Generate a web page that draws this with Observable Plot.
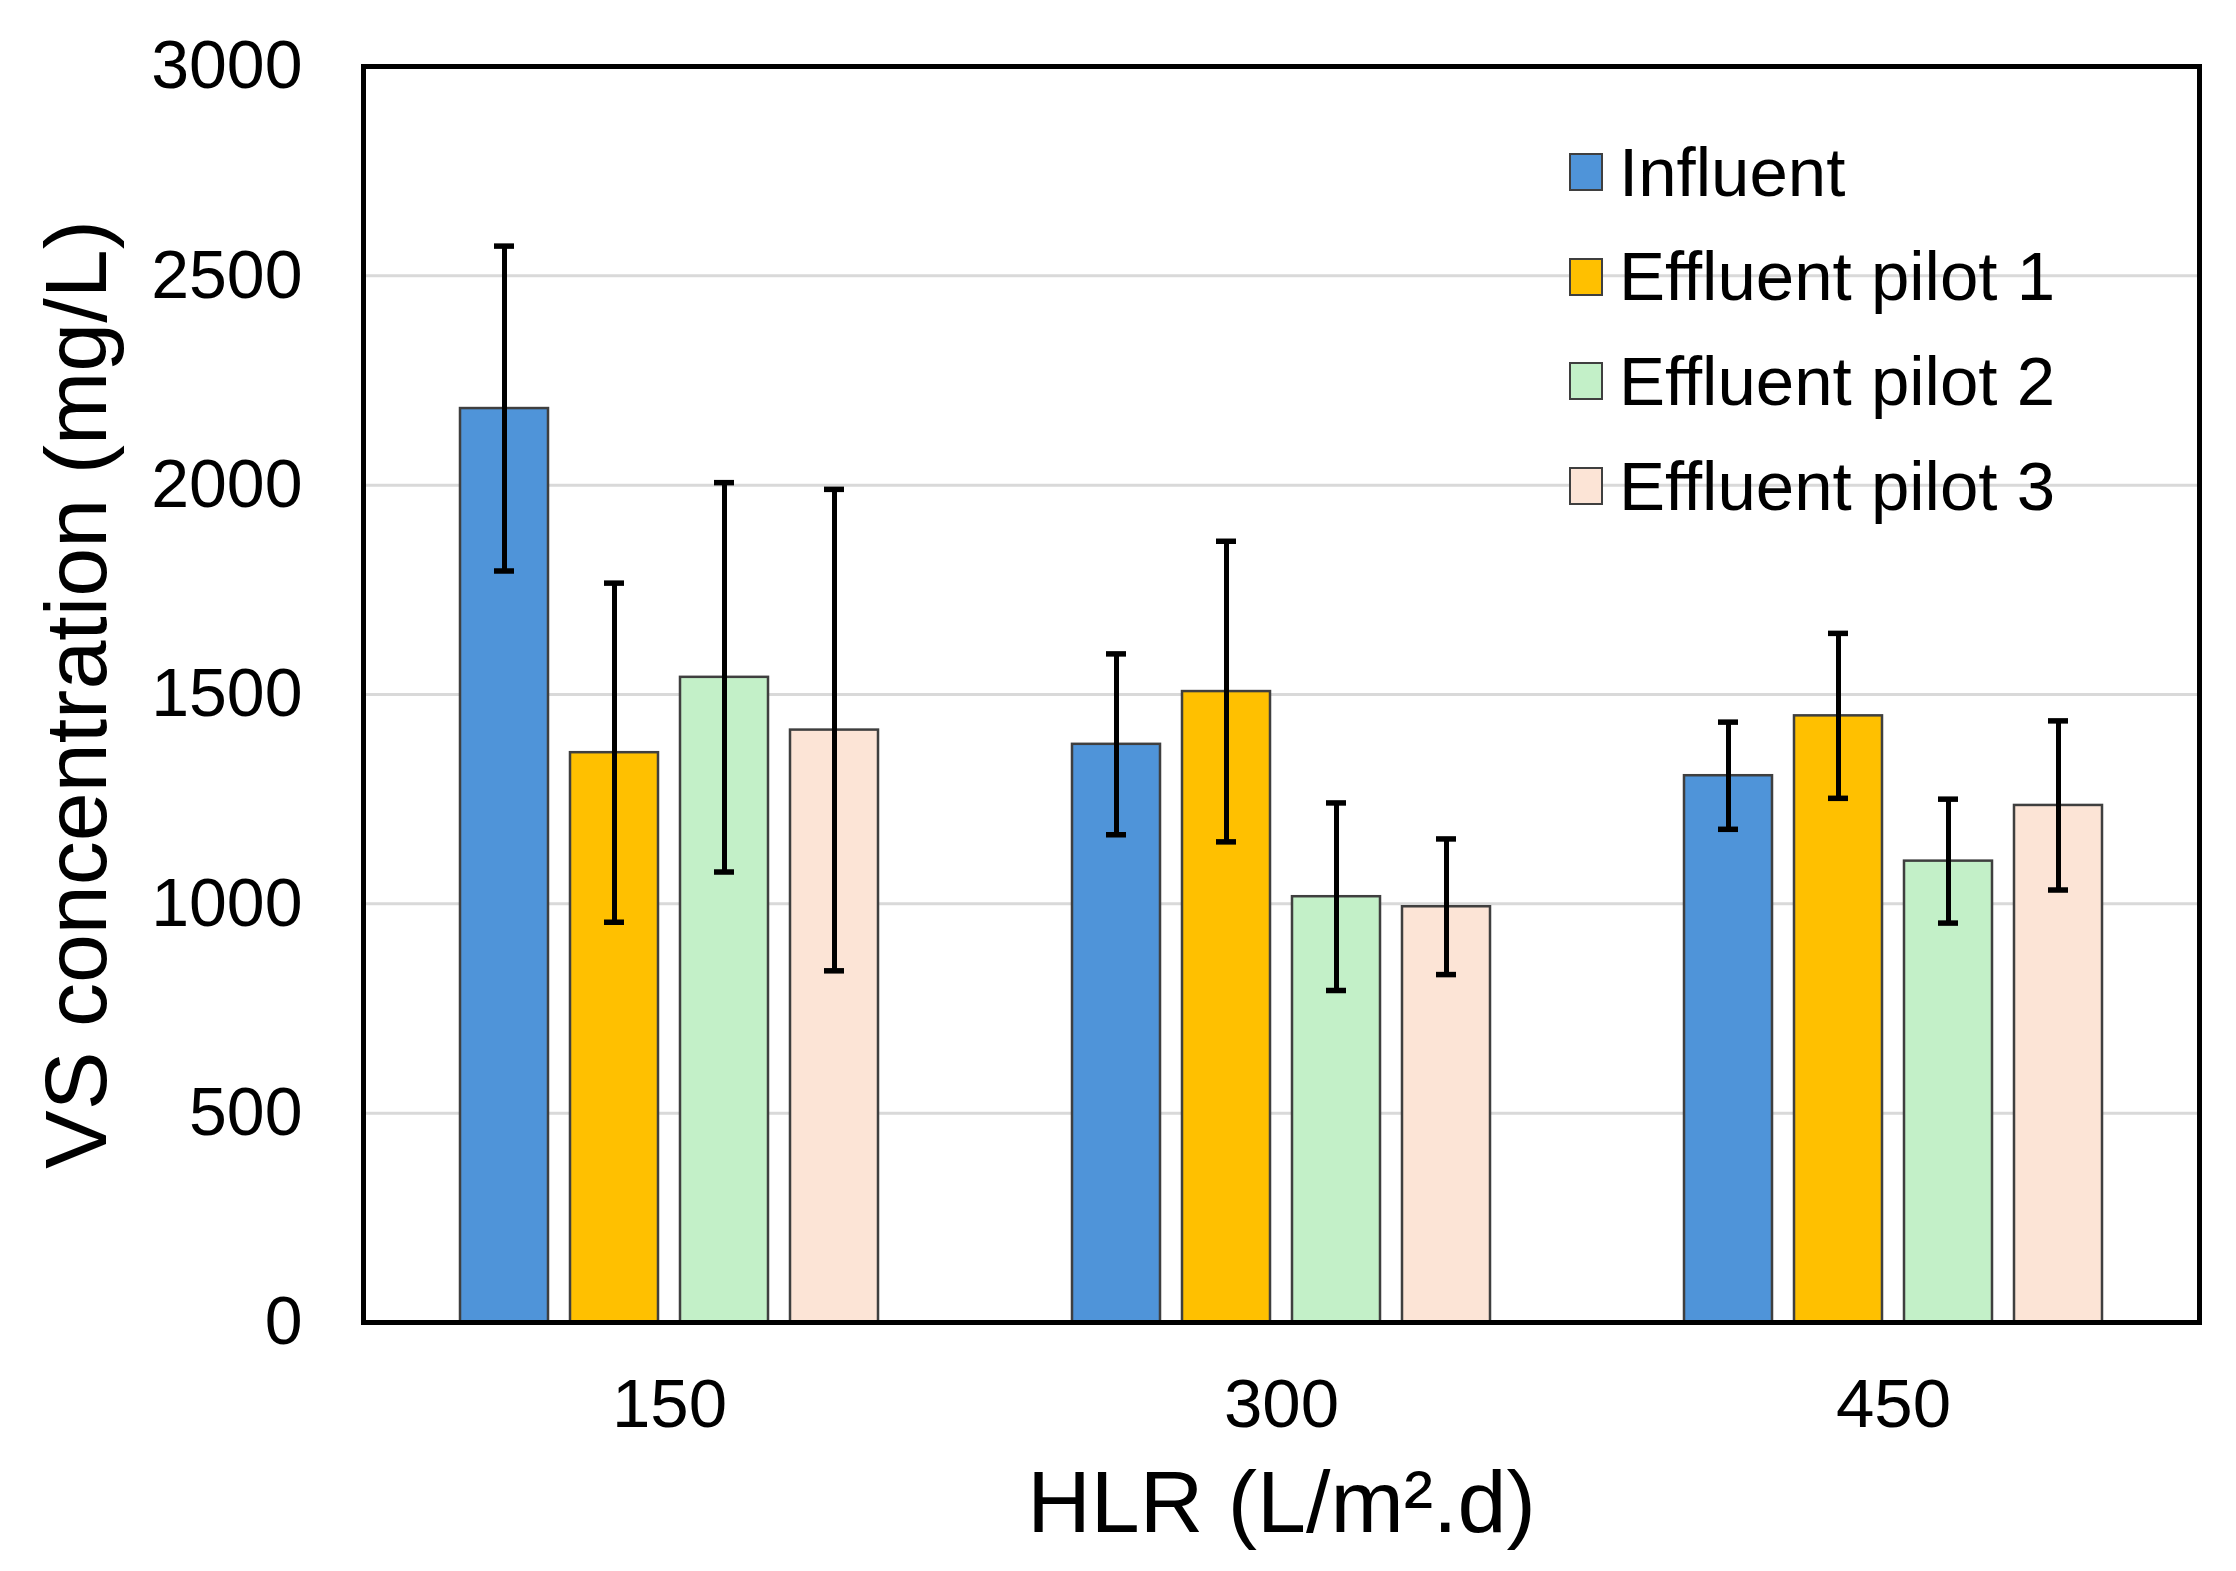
<!DOCTYPE html>
<html><head><meta charset="utf-8">
<script src="https://cdn.jsdelivr.net/npm/d3@7"></script>
<script src="https://cdn.jsdelivr.net/npm/@observablehq/plot@0.6"></script>
<style>
body{margin:0;background:#fff;}
#wrap{position:relative;width:2236px;height:1571px;font-family:"Liberation Sans",Arial,sans-serif;}
#legend{position:absolute;left:1569px;top:120px;}
.row{display:flex;align-items:center;height:104.6px;}
.sw{width:34px;height:38px;box-sizing:border-box;border:2px solid #3f3f3f;margin-right:16px;}
.lab{font-size:69px;color:#000;white-space:nowrap;}
</style>
</head><body>
<div id="wrap"><div id="legend"></div></div>
<script>
const hlr = ["150", "300", "450"];
const series = ["Influent", "Effluent pilot 1", "Effluent pilot 2", "Effluent pilot 3"];
const influent = [2183, 1381, 1306];
const influentSd = [388, 216, 128];
const pilot1 = [1361, 1507, 1449];
const pilot1Sd = [405, 359, 197];
const pilot2 = [1541, 1017, 1102];
const pilot2Sd = [465, 224, 148];
const pilot3 = [1415, 993, 1235];
const pilot3Sd = [575, 162, 202];
const yTicks = [0, 500, 1000, 1500, 2000, 2500, 3000];
const colors = ["#4F94D9", "#FFC000", "#C3F0C8", "#FCE4D6"];

const means = [influent, pilot1, pilot2, pilot3];
const sds = [influentSd, pilot1Sd, pilot2Sd, pilot3Sd];
const rows = [];
hlr.forEach((h, i) => series.forEach((s, j) => {
  rows.push({hlr: h, series: s, value: means[j][i], lo: means[j][i] - sds[j][i], hi: means[j][i] + sds[j][i]});
}));

const font = "'Liberation Sans', Arial, sans-serif";
const chart = Plot.plot({
  width: 2236, height: 1571,
  marginLeft: 362, marginRight: 37, marginTop: 66, marginBottom: 249,
  style: {fontFamily: font, background: "white", color: "black"},
  fx: {domain: hlr, paddingInner: 0, paddingOuter: 0},
  x: {domain: series, paddingInner: 0.198, paddingOuter: 0.857, axis: null},
  y: {domain: [0, 3000]},
  color: {domain: series, range: colors},
  marks: [
    Plot.gridY(yTicks.filter(d => d > 0 && d < 3000), {stroke: "#d9d9d9", strokeOpacity: 1, strokeWidth: 3}),
    Plot.barY(rows, {fx: "hlr", x: "series", y: "value", fill: "series", stroke: "#3f3f3f", strokeWidth: 2.5}),
    Plot.ruleX(rows, {fx: "hlr", x: "series", y1: "lo", y2: "hi", stroke: "black", strokeWidth: 5}),
    Plot.tickY(rows, {fx: "hlr", x: "series", y: "hi", stroke: "black", strokeWidth: 5.5, insetLeft: 34, insetRight: 34}),
    Plot.tickY(rows, {fx: "hlr", x: "series", y: "lo", stroke: "black", strokeWidth: 5.5, insetLeft: 34, insetRight: 34}),
    Plot.frame({facet: "super", stroke: "black", strokeWidth: 5}),
    Plot.axisY({ticks: yTicks, tickFormat: d => String(d), tickSize: 0, tickPadding: 61, fontSize: 68, label: null}),
    Plot.axisY({ticks: [], label: "VS concentration (mg/L)", labelAnchor: "center", labelOffset: 320, labelArrow: false, fontSize: 88}),
    Plot.axisFx({anchor: "bottom", tickSize: 0, tickPadding: 55, fontSize: 69, label: null}),
    Plot.axisFx({anchor: "bottom", ticks: [], label: "HLR (L/m².d)", labelAnchor: "center", labelOffset: 209, labelArrow: false, fontSize: 88})
  ]
});
document.getElementById("wrap").prepend(chart);

const legend = document.getElementById("legend");
series.forEach((s, j) => {
  const r = document.createElement("div");
  r.className = "row";
  r.innerHTML = `<div class="sw" style="background:${colors[j]}"></div><div class="lab">${s}</div>`;
  legend.appendChild(r);
});
</script>
</body></html>
